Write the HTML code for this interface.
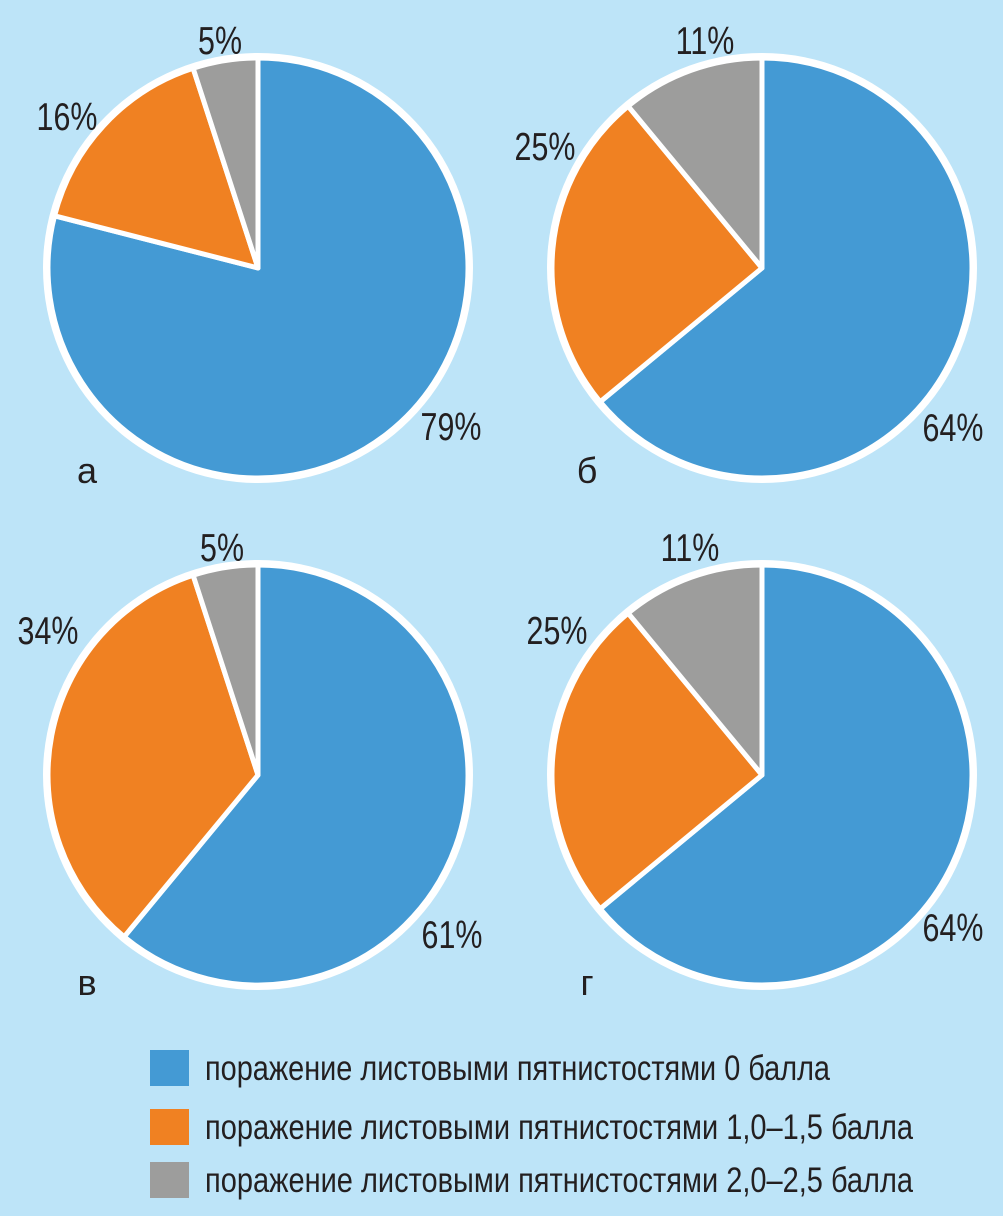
<!DOCTYPE html>
<html><head><meta charset="utf-8">
<style>
html,body{margin:0;padding:0;background:#bde4f8;}
svg{display:block}
text{font-family:"Liberation Sans Narrow","Liberation Sans",sans-serif;fill:#231f20;}
</style></head>
<body>
<svg id="c" width="1003" height="1216" viewBox="0 0 1003 1216" xmlns="http://www.w3.org/2000/svg">
<rect width="1003" height="1216" fill="#bde4f8"/>
</svg>
<script>
const panelNames = ["а","б","в","г"];
const blueValues = [79,64,61,64];
const orangeValues = [16,25,34,25];
const grayValues = [5,11,5,11];
const legendLabels = ["поражение листовыми пятнистостями 0 балла","поражение листовыми пятнистостями 1,0–1,5 балла","поражение листовыми пятнистостями 2,0–2,5 балла"];
const colors = ["#449ad4","#f08122","#9d9d9c"];
const centers = [[258,268],[762,268],[258,775],[762,775]];
const R = 210;
const labelPos = [
  [[451,440],[67,130],[220,54],[87,483]],
  [[953,441],[545,160],[705,54],[587,483]],
  [[452,948],[48,644],[222,561],[87,995]],
  [[953,941],[557,644],[690,561],[587,995]]
];
const svg = document.getElementById('c');
const NS = "http://www.w3.org/2000/svg";
function pt(cx,cy,r,frac){const a=frac*2*Math.PI;return [cx+r*Math.sin(a),cy-r*Math.cos(a)];}
function txt(x,y,s,size,anchor,sx){
  const t=document.createElementNS(NS,'text');
  t.setAttribute('x',0);t.setAttribute('y',0);t.setAttribute('font-size',size);
  t.setAttribute('transform',`translate(${x},${y}) scale(${sx||1},1)`);
  t.setAttribute('text-anchor',anchor||'middle');
  t.textContent=s;svg.appendChild(t);return t;
}
for(let i=0;i<4;i++){
  const [cx,cy]=centers[i];
  const vals=[blueValues[i],orangeValues[i],grayValues[i]];
  const tot=vals[0]+vals[1]+vals[2];
  const bg=document.createElementNS(NS,'circle');
  bg.setAttribute('cx',cx);bg.setAttribute('cy',cy);bg.setAttribute('r',R+5);bg.setAttribute('fill','#fff');
  
  
  svg.appendChild(bg);
  let acc=0;
  const segNames=['slice-0-points','slice-1-1.5-points','slice-2-2.5-points'];
  for(let k=0;k<3;k++){
    const f0=acc/tot, f1=(acc+vals[k])/tot; acc+=vals[k];
    const p0=pt(cx,cy,R,f0), p1=pt(cx,cy,R,f1);
    const large=(f1-f0)>0.5?1:0;
    const p=document.createElementNS(NS,'path');
    p.setAttribute('d',`M${cx},${cy}L${p0[0]},${p0[1]}A${R},${R} 0 ${large} 1 ${p1[0]},${p1[1]}Z`);
    p.setAttribute('fill',colors[k]);p.setAttribute('stroke','#fff');p.setAttribute('stroke-width','5');p.setAttribute('stroke-linejoin','round');
    
    
    svg.appendChild(p);
  }
  for(let k=0;k<3;k++){
    const t=txt(labelPos[i][k][0],labelPos[i][k][1],vals[k]+'%',39,'middle',0.78);
    
    
  }
  const n=txt(labelPos[i][3][0],labelPos[i][3][1],panelNames[i],36);
  
  
}
const legY=[1068,1127,1180];
for(let k=0;k<3;k++){
  const r=document.createElementNS(NS,'rect');
  r.setAttribute('x',150);r.setAttribute('y',legY[k]-18);r.setAttribute('width',39);r.setAttribute('height',36);r.setAttribute('fill',colors[k]);
  
  
  svg.appendChild(r);
  const t=txt(205,legY[k]+12,legendLabels[k],35,'start');
  t.setAttribute('textLength', k==0?625:708);
  t.setAttribute('lengthAdjust','spacingAndGlyphs');
  
  
}
</script>
</body></html>
